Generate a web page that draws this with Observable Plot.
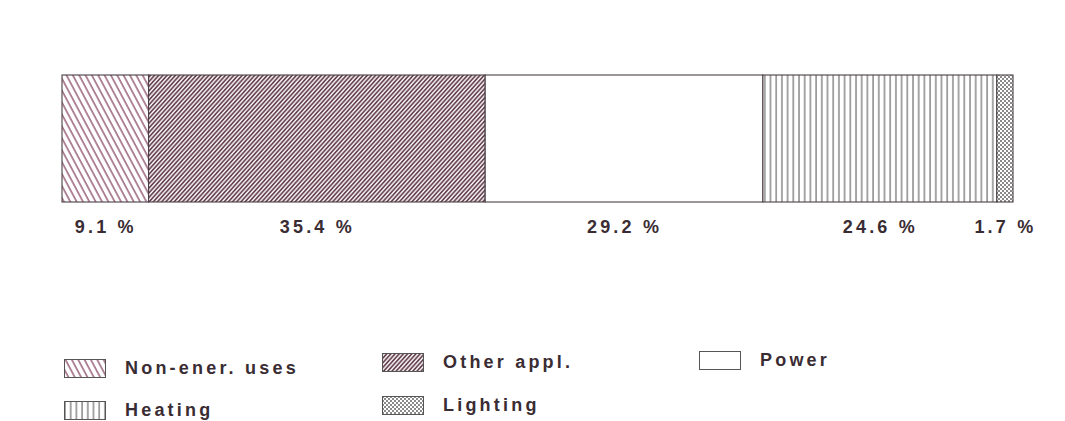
<!DOCTYPE html>
<html>
<head>
<meta charset="utf-8">
<script src="https://cdn.jsdelivr.net/npm/d3@7"></script>
<script src="https://cdn.jsdelivr.net/npm/@observablehq/plot@0.6"></script>
<style>
  body { margin: 0; background: #fff; }
  #wrap { position: relative; width: 1065px; height: 421px; overflow: hidden; font-family: "Liberation Sans", Arial, Helvetica, sans-serif; }
  .lg { position: absolute; display: flex; align-items: center; }
  .lg span { font-size: 18px; letter-spacing: 3.2px; color: #3a2c33; font-weight: bold; margin-left: 19px; }
</style>
</head>
<body>
<svg width="0" height="0" style="position:absolute">
  <defs>
    <pattern id="pNon" patternUnits="userSpaceOnUse" width="5.6" height="10" patternTransform="rotate(-28)">
      <rect width="5.6" height="10" fill="#fff"/>
      <line x1="1" y1="0" x2="1" y2="10" stroke="#8a4a66" stroke-width="1.3"/>
    </pattern>
    <pattern id="pOther" patternUnits="userSpaceOnUse" width="3.1" height="10" patternTransform="rotate(42)">
      <rect width="3.1" height="10" fill="#fff"/>
      <line x1="1" y1="0" x2="1" y2="10" stroke="#5a3342" stroke-width="1.6"/>
    </pattern>
    <pattern id="pPower" patternUnits="userSpaceOnUse" width="10" height="10">
      <rect width="10" height="10" fill="#fff"/>
    </pattern>
    <pattern id="pHeat" patternUnits="userSpaceOnUse" width="5.7" height="10">
      <rect width="5.7" height="10" fill="#fff"/>
      <line x1="1" y1="0" x2="1" y2="10" stroke="#777" stroke-width="1.3"/>
    </pattern>
    <pattern id="pLight" patternUnits="userSpaceOnUse" width="4" height="4">
      <rect width="4" height="4" fill="#fff"/>
      <rect x="0" y="0" width="2" height="2" fill="#8a8a8a"/>
      <rect x="2" y="2" width="2" height="2" fill="#8a8a8a"/>
    </pattern>
  </defs>
</svg>
<div id="wrap"></div>
<script>
// ---- data ----
const categories = ["Non-ener. uses", "Other appl.", "Power", "Heating", "Lighting"];
const shares = [9.1, 35.4, 29.2, 24.6, 1.7];
const shareLabels = ["9.1 %", "35.4 %", "29.2 %", "24.6 %", "1.7 %"];

// ---- table built from arrays ----
const data = categories.map((c, i) => ({category: c, share: shares[i], label: shareLabels[i]}));

const patternRange = ["url(#pNon)", "url(#pOther)", "url(#pPower)", "url(#pHeat)", "url(#pLight)"];

const chart = Plot.plot({
  width: 1065,
  height: 260,
  marginLeft: 62,
  marginRight: 52,
  marginTop: 75,
  marginBottom: 58,
  x: {domain: [0, 100], axis: null},
  color: {domain: categories, range: patternRange},
  style: {background: "#fff", fontFamily: "'Liberation Sans', Arial, Helvetica, sans-serif"},
  marks: [
    Plot.barX(data, Plot.stackX({x: "share", fill: "category", stroke: "#4a4046", strokeWidth: 1.1})),
    Plot.text(data, Plot.stackX({
      x: "share", text: "label", frameAnchor: "bottom", dy: 25, lineAnchor: "middle",
      fontSize: 18, fontWeight: "bold", fill: "#3a2c33"
    }))
  ]
});
chart.querySelectorAll("text").forEach(t => t.style.letterSpacing = "3.2px");
const wrap = document.getElementById("wrap");
wrap.appendChild(chart);
chart.style.position = "absolute"; chart.style.left = "0px"; chart.style.top = "0px";

// ---- legend (HTML, below the plot) ----
const legendPos = {
  "Non-ener. uses": [64, 358],
  "Other appl.": [382, 352],
  "Power": [699, 350],
  "Heating": [64, 400],
  "Lighting": [382, 395]
};
categories.forEach((c, i) => {
  const [lx, ly] = legendPos[c];
  const d = document.createElement("div");
  d.className = "lg";
  d.style.left = lx + "px";
  d.style.top = ly + "px";
  d.innerHTML = `<svg width="42" height="19"><rect x="0.5" y="0.5" width="41" height="18" fill="${patternRange[i]}" stroke="#555" stroke-width="1"/></svg><span>${c}</span>`;
  wrap.appendChild(d);
});
</script>
</body>
</html>
